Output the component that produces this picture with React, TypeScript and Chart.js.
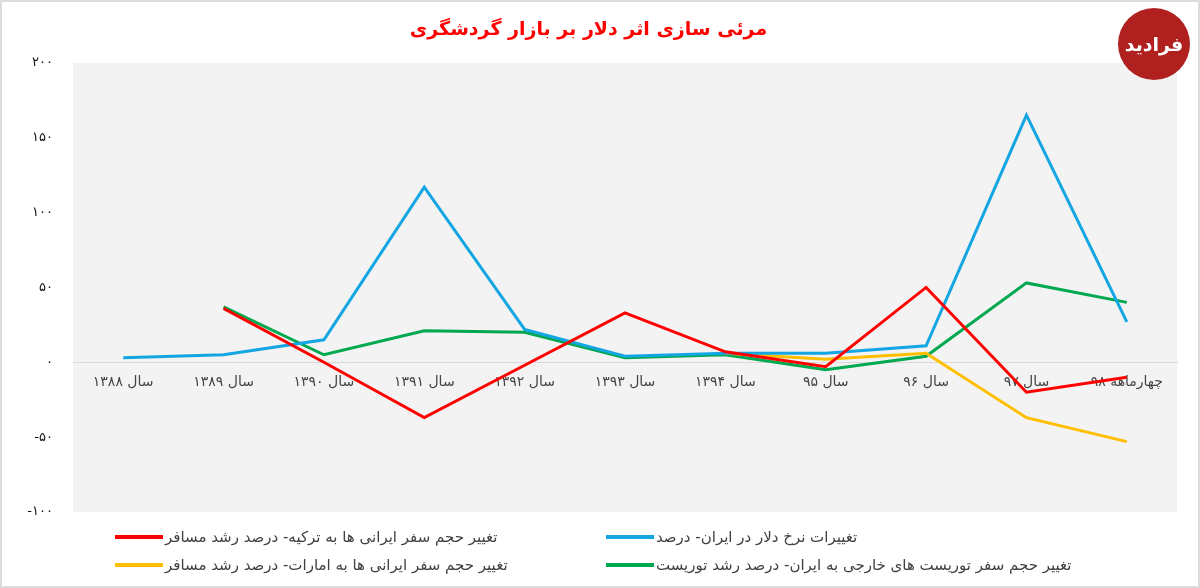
import React, { useEffect, useRef } from "react";
import { Chart, registerables } from "chart.js";

Chart.register(...registerables);

const title = "مرئی سازی اثر دلار بر بازار گردشگری";
const categories = [
  "سال ۱۳۸۸",
  "سال ۱۳۸۹",
  "سال ۱۳۹۰",
  "سال ۱۳۹۱",
  "سال ۱۳۹۲",
  "سال ۱۳۹۳",
  "سال ۱۳۹۴",
  "سال ۹۵",
  "سال ۹۶",
  "سال ۹۷",
  "چهارماهه ۹۸",
];
const turkeyTravel = [null, 36, 0, -37, -2, 33, 7, -3, 50, -20, -10];
const dollarRate = [3, 5, 15, 117, 22, 4, 6, 6, 11, 165, 27];
const emiratesTravel = [null, null, null, null, null, null, 6, 2, 6, -37, -53];
const foreignTourists = [null, 37, 5, 21, 20, 3, 5, -5, 4, 53, 40];

const seriesNames = [
  "تغییر حجم سفر ایرانی ها به ترکیه- درصد رشد مسافر",
  "تغییرات نرخ دلار در ایران- درصد",
  "تغییر حجم سفر ایرانی ها به امارات- درصد رشد مسافر",
  "تغییر حجم سفر توریست های خارجی به ایران- درصد رشد توریست",
];
const seriesColors = ["#ff0000", "#14a6e3", "#ffbf00", "#00a84f"];
const yMin = -100;
const yMax = 200;
const yStep = 50;

const FONT = "'DejaVu Sans', sans-serif";

const toFa = (v: number | string) =>
  String(v).replace(/[0-9]/g, (d) => "۰۱۲۳۴۵۶۷۸۹"[Number(d)]);

const plotBg = {
  id: "plotBg",
  beforeDraw(chart: any) {
    const { ctx, chartArea } = chart;
    ctx.save();
    ctx.fillStyle = "#f3f3f3";
    ctx.fillRect(
      chartArea.left,
      chartArea.top,
      chartArea.right - chartArea.left,
      chartArea.bottom - chartArea.top
    );
    ctx.restore();
  },
};

export default function App() {
  const ref = useRef<HTMLCanvasElement | null>(null);

  useEffect(() => {
    if (!ref.current) return;
    const data = [turkeyTravel, dollarRate, emiratesTravel, foreignTourists];
    const chart = new Chart(ref.current, {
      type: "line",
      data: {
        labels: categories,
        datasets: data.map((d, i) => ({
          label: seriesNames[i],
          data: d,
          borderColor: seriesColors[i],
          backgroundColor: seriesColors[i],
          borderWidth: 3,
          pointRadius: 0,
          tension: 0,
          fill: false,
        })),
      },
      options: {
        animation: false,
        responsive: true,
        maintainAspectRatio: false,
        layout: { padding: { left: 0, right: 23, top: 0, bottom: 76 } },
        plugins: {
          legend: { display: false },
          tooltip: { enabled: false },
          title: {
            display: true,
            text: title,
            color: "#ff0000",
            font: { family: FONT, size: 19, weight: "bold", lineHeight: 1.2 },
            padding: { top: 19, bottom: 21 },
          },
        },
        scales: {
          x: {
            type: "category",
            offset: true,
            position: { y: 0 } as any,
            grid: { display: false, drawTicks: false },
            border: { display: true, color: "#d9d9d9", width: 1 },
            ticks: {
              autoSkip: false,
              maxRotation: 0,
              minRotation: 0,
              padding: 12,
              color: "#444444",
              font: { family: FONT, size: 14 },
            },
          },
          y: {
            min: yMin,
            max: yMax,
            grid: { display: false, drawTicks: false },
            border: { display: false },
            afterFit: (scale: any) => {
              scale.width = 73;
            },
            ticks: {
              stepSize: yStep,
              padding: 20,
              color: "#111111",
              font: { family: FONT, size: 13 },
              callback: (v: any) => toFa(v),
            },
          },
        },
      },
      plugins: [plotBg],
    });
    return () => chart.destroy();
  }, []);

  const legendItem = (i: number, left: number, top: number) => (
    <div
      key={i}
      style={{
        position: "absolute",
        left,
        top,
        height: 20,
        display: "flex",
        alignItems: "center",
        whiteSpace: "nowrap",
      }}
    >
      <div style={{ width: 48, height: 4, background: seriesColors[i] }} />
      <span
        style={{
          marginLeft: 2,
          fontFamily: FONT,
          fontSize: 15,
          color: "#404040",
        }}
      >
        {seriesNames[i]}
      </span>
    </div>
  );

  return (
    <div
      style={{
        position: "absolute",
        left: 0,
        top: 0,
        width: 1200,
        height: 588,
        background: "#ffffff",
        overflow: "hidden",
      }}
    >
      <canvas ref={ref} />
      {legendItem(0, 115, 527)}
      {legendItem(1, 606, 527)}
      {legendItem(2, 115, 555)}
      {legendItem(3, 606, 555)}
      <div
        style={{
          position: "absolute",
          left: 1118,
          top: 8,
          width: 72,
          height: 72,
          borderRadius: "50%",
          background: "#b0201f",
          display: "flex",
          alignItems: "center",
          justifyContent: "center",
          color: "#ffffff",
          fontFamily: FONT,
          fontWeight: "bold",
          fontSize: 19,
        }}
      >
        فرادید
      </div>
      <div
        style={{
          position: "absolute",
          left: 0,
          top: 0,
          width: 1200,
          height: 588,
          boxSizing: "border-box",
          border: "2px solid #dddddd",
          pointerEvents: "none",
        }}
      />
    </div>
  );
}
